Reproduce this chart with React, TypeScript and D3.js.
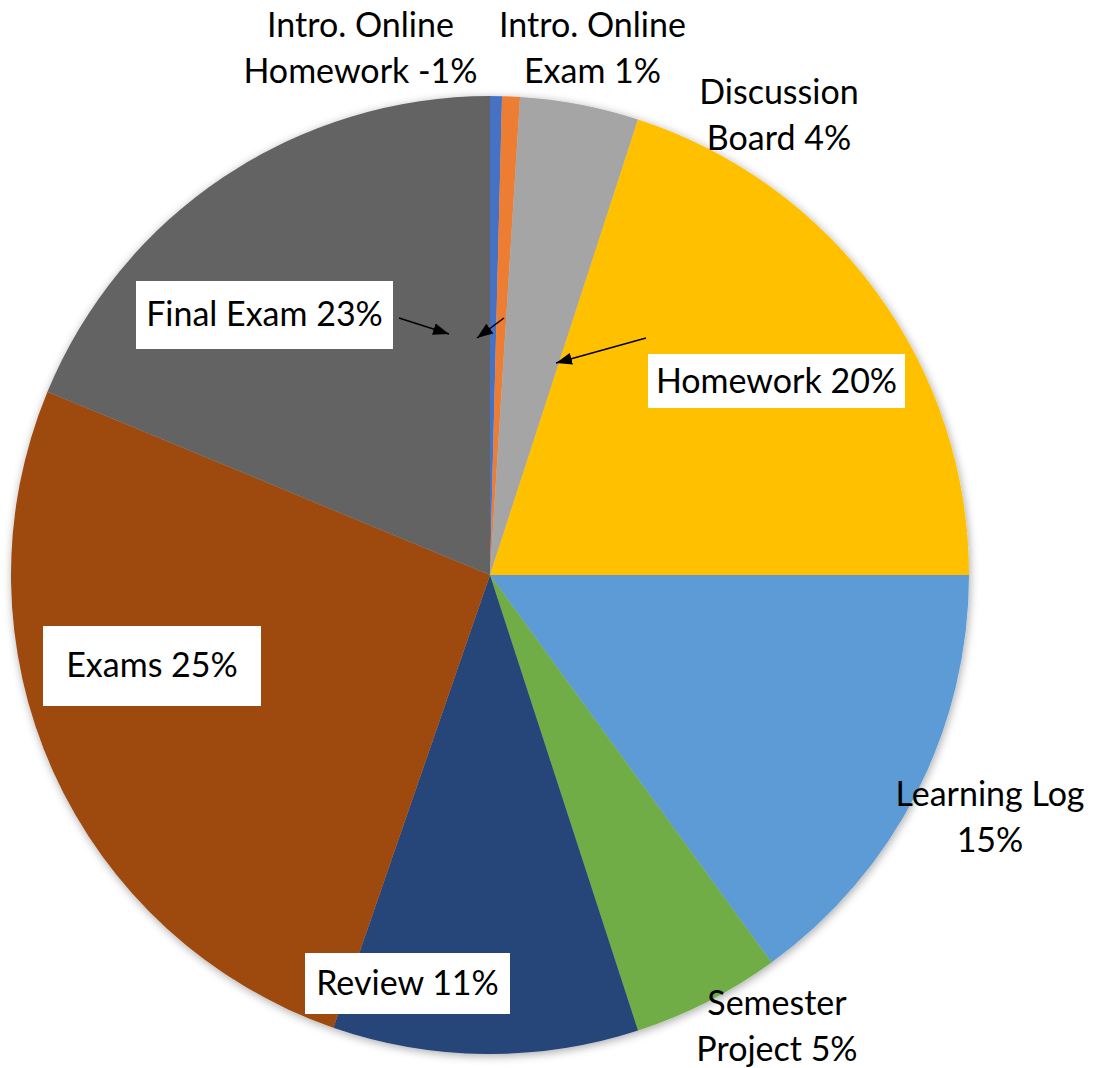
import React from "react";
import * as d3 from "d3";

const categories = [
  "Intro. Online Homework",
  "Intro. Online Exam",
  "Discussion Board",
  "Homework",
  "Learning Log",
  "Semester Project",
  "Review",
  "Exams",
  "Final Exam",
];
const values = [0.4, 0.6, 4.0, 20.0, 15.0, 5.0, 10.3, 25.95, 18.75];
const colors = [
  "#4472C4",
  "#ED7D31",
  "#A5A5A5",
  "#FFC000",
  "#5B9BD5",
  "#70AD47",
  "#264478",
  "#9E480E",
  "#636363",
];
const labelLines = [
  ["Intro. Online", "Homework -1%"],
  ["Intro. Online", "Exam 1%"],
  ["Discussion", "Board 4%"],
  ["Homework 20%"],
  ["Learning Log", "15%"],
  ["Semester", "Project 5%"],
  ["Review 11%"],
  ["Exams 25%"],
  ["Final Exam 23%"],
];

// layout (offsets from pie center): label center x, first baseline y, optional box
const W = 1102;
const H = 1068;
const CX = 490;
const CY = 575;
const R = 479;
const FONT = 34;
const LINE = 46;
const labelLayout = [
  { dx: -129.5, dy: -538, box: null },
  { dx: 102.5, dy: -538, box: null },
  { dx: 289, dy: -471, box: null },
  { dx: 286.5, dy: -182, box: { w: 257, h: 54, cy: -194 } },
  { dx: 500, dy: 231, box: null },
  { dx: 287, dy: 440, box: null },
  { dx: -82.5, dy: 420, box: { w: 205, h: 61, cy: 408.5 } },
  { dx: -338, dy: 102, box: { w: 218, h: 80, cy: 91 } },
  { dx: -225.5, dy: -249, box: { w: 257, h: 68, cy: -260 } },
];
const arrows = [
  { x1: -91, y1: -257, x2: -41, y2: -241 },
  { x1: 14, y1: -257, x2: -13, y2: -237 },
  { x1: 156, y1: -237, x2: 66, y2: -212 },
];

export default function App() {
  const pie = d3
    .pie<number>()
    .sort(null)
    .startAngle(0)
    .endAngle(2 * Math.PI)
    .value((d) => d);
  const arcs = pie(values);
  const arcGen = d3.arc<d3.PieArcDatum<number>>().innerRadius(0).outerRadius(R);

  return (
    <svg
      width={W}
      height={H}
      style={{ position: "absolute", left: 0, top: 0, background: "#fff" }}
      fontFamily="Lato, 'Noto Sans', sans-serif"
    >
      <defs>
        <filter id="shadow" x="-10%" y="-10%" width="120%" height="120%">
          <feGaussianBlur in="SourceAlpha" stdDeviation="5" />
          <feOffset dx="1" dy="2" result="b" />
          <feComponentTransfer>
            <feFuncA type="linear" slope="0.35" />
          </feComponentTransfer>
          <feMerge>
            <feMergeNode />
            <feMergeNode in="SourceGraphic" />
          </feMerge>
        </filter>
        <marker
          id="arrow"
          viewBox="0 0 16 12"
          refX="16"
          refY="6"
          markerWidth="16"
          markerHeight="12"
          markerUnits="userSpaceOnUse"
          orient="auto"
        >
          <path d="M0,0 L16,6 L0,12 Z" fill="#000" />
        </marker>
      </defs>
      <g transform={`translate(${CX},${CY})`}>
        <g filter="url(#shadow)">
          {arcs.map((a, i) => (
            <path key={categories[i]} d={arcGen(a) || ""} fill={colors[i]} />
          ))}
        </g>
        {labelLayout.map((l, i) => (
          <g key={"lab" + i}>
            {l.box && (
              <rect
                x={l.dx - l.box.w / 2}
                y={l.box.cy - l.box.h / 2}
                width={l.box.w}
                height={l.box.h}
                fill="#fff"
              />
            )}
            <text textAnchor="middle" fontSize={FONT} fill="#000">
              {labelLines[i].map((t, j) => (
                <tspan key={j} x={l.dx} y={l.dy + j * LINE}>
                  {t}
                </tspan>
              ))}
            </text>
          </g>
        ))}
        {arrows.map((a, i) => (
          <line
            key={"ar" + i}
            x1={a.x1}
            y1={a.y1}
            x2={a.x2}
            y2={a.y2}
            stroke="#000"
            strokeWidth={1.5}
            markerEnd="url(#arrow)"
          />
        ))}
      </g>
    </svg>
  );
}
